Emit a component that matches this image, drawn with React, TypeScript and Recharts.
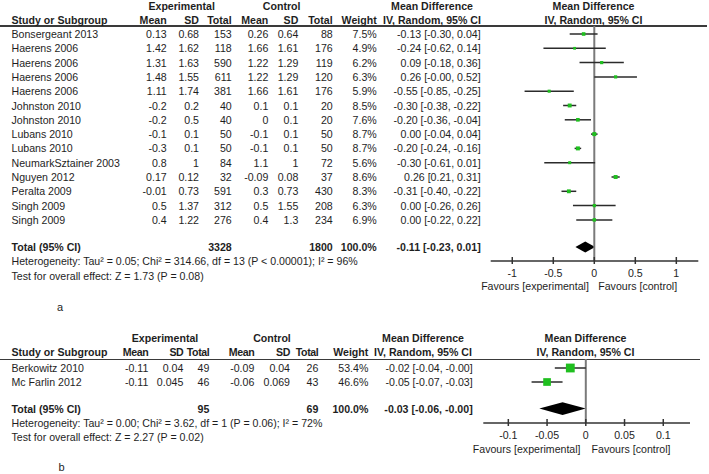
import React from "react";
import {
  ComposedChart,
  Scatter,
  ErrorBar,
  XAxis,
  YAxis,
  ReferenceLine,
  ReferenceArea,
} from "recharts";

// ---- panel a data ----
const studiesA = [
  "Bonsergeant 2013",
  "Haerens 2006",
  "Haerens 2006",
  "Haerens 2006",
  "Haerens 2006",
  "Johnston 2010",
  "Johnston 2010",
  "Lubans 2010",
  "Lubans 2010",
  "NeumarkSztainer 2003",
  "Nguyen 2012",
  "Peralta 2009",
  "Singh 2009",
  "Singh 2009",
];
const expMeanA = [0.13, 1.42, 1.31, 1.48, 1.11, -0.2, -0.2, -0.1, -0.3, 0.8, 0.17, -0.01, 0.5, 0.4];
const expSdA = [0.68, 1.62, 1.63, 1.55, 1.74, 0.2, 0.5, 0.1, 0.1, 1, 0.12, 0.73, 1.37, 1.22];
const expNA = [153, 118, 590, 611, 381, 40, 40, 50, 50, 84, 32, 591, 312, 276];
const ctlMeanA = [0.26, 1.66, 1.22, 1.22, 1.66, 0.1, 0, -0.1, -0.1, 1.1, -0.09, 0.3, 0.5, 0.4];
const ctlSdA = [0.64, 1.61, 1.29, 1.29, 1.61, 0.1, 0.1, 0.1, 0.1, 1, 0.08, 0.73, 1.55, 1.3];
const ctlNA = [88, 176, 119, 120, 176, 20, 20, 50, 50, 72, 37, 430, 208, 234];
const weightA = [7.5, 4.9, 6.2, 6.3, 5.9, 8.5, 7.6, 8.7, 8.7, 5.6, 8.6, 8.3, 6.3, 6.9];
const mdA = [-0.13, -0.24, 0.09, 0.26, -0.55, -0.3, -0.2, 0, -0.2, -0.3, 0.26, -0.31, 0, 0];
const loA = [-0.3, -0.62, -0.18, -0, -0.85, -0.38, -0.36, -0.04, -0.24, -0.61, 0.21, -0.4, -0.26, -0.22];
const hiA = [0.04, 0.14, 0.36, 0.52, -0.25, -0.22, -0.04, 0.04, -0.16, 0.01, 0.31, -0.22, 0.26, 0.22];
const totalA = [3328, 1800, -0.11, -0.23, 0.01]; // expN, ctlN, md, lo, hi
const hetA = "Heterogeneity: Tau² = 0.05; Chi² = 314.66, df = 13 (P < 0.00001); I² = 96%";
const testA = "Test for overall effect: Z = 1.73 (P = 0.08)";
const ticksA = [-1, -0.5, 0, 0.5, 1];

// ---- panel b data ----
const studiesB = ["Berkowitz 2010", "Mc Farlin 2012"];
const expMeanB = [-0.11, -0.11];
const expSdB = [0.04, 0.045];
const expNB = [49, 46];
const ctlMeanB = [-0.09, -0.06];
const ctlSdB = [0.04, 0.069];
const ctlNB = [26, 43];
const weightB = [53.4, 46.6];
const mdB = [-0.02, -0.05];
const loB = [-0.04, -0.07];
const hiB = [-0, -0.03];
const totalB = [95, 69, -0.03, -0.06, -0];
const hetB = "Heterogeneity: Tau² = 0.00; Chi² = 3.62, df = 1 (P = 0.06); I² = 72%";
const testB = "Test for overall effect: Z = 2.27 (P = 0.02)";
const ticksB = [-0.1, -0.05, 0, 0.05, 0.1];

const FONT = '"Liberation Sans", Arial, sans-serif';
const INK = "#1e1e1e";
const GREEN = "#1fbf1f";

const f2 = (v: number) => (Object.is(v, -0) || v < 0 ? "-" : "") + Math.abs(v).toFixed(2);
const ciText = (m: number, lo: number, hi: number) => `${f2(m)} [${f2(lo)}, ${f2(hi)}]`;

function T({ x, y, a = "start", b = false, size = 10.6, ls = 0, children }: any) {
  const w = 400;
  const left = a === "start" ? x : a === "end" ? x - w : x - w / 2;
  return (
    <div
      style={{
        position: "absolute",
        left,
        top: y - 7,
        width: w,
        height: 14,
        lineHeight: "14px",
        fontSize: size,
        letterSpacing: ls,
        textAlign: a === "start" ? "left" : a === "end" ? "right" : "center",
        fontWeight: b ? 700 : 400,
        whiteSpace: "nowrap",
        color: INK,
      }}
    >
      {children}
    </div>
  );
}

function AxisTick({ x, y, payload }: any) {
  return (
    <g>
      <line x1={x} x2={x} y1={y - 4} y2={y + 3} stroke="#333" strokeWidth={1.5} />
      <text x={x} y={y + 16} textAnchor="middle" fontSize={10.6} fontFamily={FONT} fill={INK}>
        {String(payload.value)}
      </text>
    </g>
  );
}

const diamond = (m: number, lo: number, hi: number) => (p: any) => {
  const cx = p.x + (p.width * (m - lo)) / (hi - lo);
  const cy = p.y + p.height / 2;
  return (
    <polygon
      points={`${p.x},${cy} ${cx},${p.y} ${p.x + p.width},${cy} ${cx},${p.y + p.height}`}
      fill="#000"
    />
  );
};

function Panel({ d, L }: any) {
  const rowY = (i: number) => L.row0Y + i * L.rowH;
  const yDomain = [(L.lineY - L.row0Y) / L.rowH, (L.axisY - L.row0Y) / L.rowH];
  const points = d.md.map((m: number, i: number) => ({
    md: m,
    row: i,
    w: d.weight[i],
    err: [m - d.lo[i], d.hi[i] - m],
  }));
  const [tExp, tCtl, tMd, tLo, tHi] = d.total;
  const totalRow = L.totalRow;
  const chartLeft = 440;
  const chartTop = L.lineY;
  const chartH = L.axisY - L.lineY + 40;
  const cols = L.cols;
  const ls = L.hdrLS;

  const square = (p: any) => {
    const s = L.sq(p.payload.w);
    return <rect x={p.cx - s / 2} y={p.cy - s / 2} width={s} height={s} fill={GREEN} />;
  };

  return (
    <>
      <div
        style={{
          position: "absolute",
          left: 0,
          top: L.lineY - 0.75,
          width: L.lineEnd,
          height: 1.5,
          background: "#3a3a3a",
        }}
      />
      <T x={L.expHdr} y={L.hdr1Y} a="middle" b>Experimental</T>
      <T x={L.ctlHdr} y={L.hdr1Y} a="middle" b>Control</T>
      <T x={L.mdHdr} y={L.hdr1Y} a="middle" b>Mean Difference</T>
      <T x={L.plotHdr} y={L.hdr1Y} a="middle" b>Mean Difference</T>
      <T x={11.5} y={L.hdr2Y} b>Study or Subgroup</T>
      <T x={cols[0]} y={L.hdr2Y} a="end" b ls={ls}>Mean</T>
      <T x={cols[1]} y={L.hdr2Y} a="end" b ls={ls}>SD</T>
      <T x={cols[2]} y={L.hdr2Y} a="end" b ls={ls}>Total</T>
      <T x={cols[3]} y={L.hdr2Y} a="end" b ls={ls}>Mean</T>
      <T x={cols[4]} y={L.hdr2Y} a="end" b ls={ls}>SD</T>
      <T x={cols[5]} y={L.hdr2Y} a="end" b ls={ls}>Total</T>
      <T x={cols[6]} y={L.hdr2Y} a="end" b>Weight</T>
      <T x={L.mdHdr} y={L.hdr2Y} a="middle" b>IV, Random, 95% CI</T>
      <T x={L.plotHdr} y={L.hdr2Y} a="middle" b>IV, Random, 95% CI</T>

      {d.studies.map((s: string, i: number) => (
        <React.Fragment key={i}>
          <T x={11.5} y={rowY(i)}>{s}</T>
          <T x={cols[0]} y={rowY(i)} a="end">{String(d.expMean[i])}</T>
          <T x={cols[1]} y={rowY(i)} a="end">{String(d.expSd[i])}</T>
          <T x={cols[2]} y={rowY(i)} a="end">{String(d.expN[i])}</T>
          <T x={cols[3]} y={rowY(i)} a="end">{String(d.ctlMean[i])}</T>
          <T x={cols[4]} y={rowY(i)} a="end">{String(d.ctlSd[i])}</T>
          <T x={cols[5]} y={rowY(i)} a="end">{String(d.ctlN[i])}</T>
          <T x={cols[6]} y={rowY(i)} a="end">{d.weight[i].toFixed(1)}%</T>
          <T x={cols[7]} y={rowY(i)} a="end">{ciText(d.md[i], d.lo[i], d.hi[i])}</T>
        </React.Fragment>
      ))}

      <T x={11.5} y={rowY(totalRow)} b>Total (95% CI)</T>
      <T x={cols[2]} y={rowY(totalRow)} a="end" b>{String(tExp)}</T>
      <T x={cols[5]} y={rowY(totalRow)} a="end" b>{String(tCtl)}</T>
      <T x={cols[6]} y={rowY(totalRow)} a="end" b>100.0%</T>
      <T x={cols[7]} y={rowY(totalRow)} a="end" b>{ciText(tMd, tLo, tHi)}</T>
      <T x={11.5} y={L.hetY}>{d.het}</T>
      <T x={11.5} y={L.testY}>{d.test}</T>
      <T x={L.favL} y={L.favY} a="middle">Favours [experimental]</T>
      <T x={L.favR} y={L.favY} a="middle">Favours [control]</T>
      <T x={L.tag[0]} y={L.tag[1]} a="middle" size={11}>{L.tagText}</T>

      <div style={{ position: "absolute", left: chartLeft, top: chartTop }}>
        <ComposedChart
          width={709 - chartLeft}
          height={chartH}
          margin={{ top: 0, right: 709 - L.plotX[1], bottom: 10, left: L.plotX[0] - chartLeft }}
        >
          <XAxis
            type="number"
            dataKey="md"
            domain={L.xDomain}
            ticks={d.ticks}
            interval={0}
            allowDataOverflow
            tickSize={0}
            tickMargin={0}
            tickLine={false}
            axisLine={{ stroke: "#333", strokeWidth: 1.5 }}
            tick={<AxisTick />}
            height={30}
          />
          <YAxis type="number" dataKey="row" domain={yDomain} reversed hide allowDataOverflow />
          <ReferenceLine x={0} stroke="#7a7a7a" strokeWidth={2} />
          <Scatter data={points} shape={square} isAnimationActive={false}>
            <ErrorBar dataKey="err" direction="x" width={0} stroke="#2b2b2b" strokeWidth={1.5} />
          </Scatter>
          <ReferenceArea
            x1={tLo}
            x2={tHi}
            y1={totalRow - L.dh}
            y2={totalRow + L.dh}
            shape={diamond(tMd, tLo, tHi)}
          />
        </ComposedChart>
      </div>
    </>
  );
}

const dataA = {
  studies: studiesA, expMean: expMeanA, expSd: expSdA, expN: expNA,
  ctlMean: ctlMeanA, ctlSd: ctlSdA, ctlN: ctlNA, weight: weightA,
  md: mdA, lo: loA, hi: hiA, total: totalA, het: hetA, test: testA, ticks: ticksA,
};
const dataB = {
  studies: studiesB, expMean: expMeanB, expSd: expSdB, expN: expNB,
  ctlMean: ctlMeanB, ctlSd: ctlSdB, ctlN: ctlNB, weight: weightB,
  md: mdB, lo: loB, hi: hiB, total: totalB, het: hetB, test: testB, ticks: ticksB,
};

const layoutA = {
  row0Y: 34, rowH: 14.3, totalRow: 14.9, lineY: 26, axisY: 261,
  hdr1Y: 6, hdr2Y: 20, hetY: 261, testY: 275.7, favY: 285.7,
  plotX: [490.7, 698.3], xDomain: [-1.263, 1.268],
  cols: [166.7, 199, 231.7, 268.3, 298.3, 332.7, 376.7, 480.7],
  expHdr: 181.7, ctlHdr: 281.7, mdHdr: 432, plotHdr: 593.5,
  favL: 535, favR: 637.7, lineEnd: 706.7, tag: [60, 306.7], tagText: "a",
  dh: 0.385, sq: (w: number) => 1.2 + w * 0.32, hdrLS: 0,
};
const layoutB = {
  row0Y: 368.3, rowH: 14, totalRow: 2.9, lineY: 359.3, axisY: 423.3,
  hdr1Y: 338.3, hdr2Y: 352.3, hetY: 423.3, testY: 436.7, favY: 449,
  plotX: [483.3, 690], xDomain: [-0.1323, 0.1345],
  cols: [148.3, 183.3, 209.3, 254.3, 290, 318.3, 368.3, 472.7],
  expHdr: 165, ctlHdr: 272, mdHdr: 423, plotHdr: 585.5,
  favL: 526.7, favR: 631, lineEnd: 700, tag: [61.5, 466.7], tagText: "b",
  dh: 0.45, sq: (w: number) => w * 0.165, hdrLS: -0.4,
};

export default function App() {
  return (
    <div
      style={{
        position: "absolute",
        left: 0,
        top: 0,
        width: 709,
        height: 474,
        background: "#fff",
        fontFamily: FONT,
        overflow: "hidden",
      }}
    >
      <Panel d={dataA} L={layoutA} />
      <Panel d={dataB} L={layoutB} />
    </div>
  );
}
